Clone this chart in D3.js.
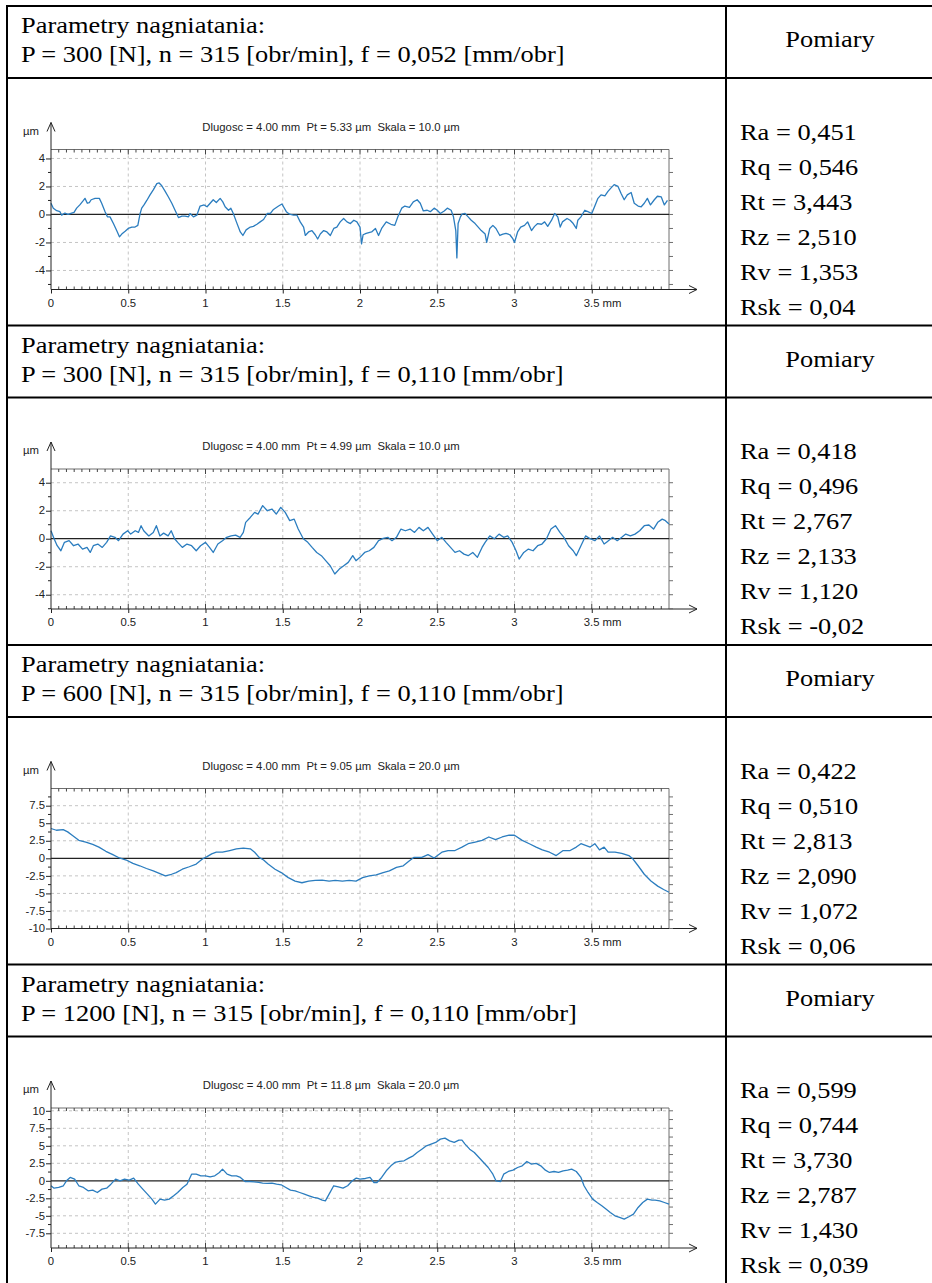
<!DOCTYPE html>
<html>
<head>
<meta charset="utf-8">
<script src="https://cdn.jsdelivr.net/npm/d3@7"></script>
<style>
  html, body { margin: 0; padding: 0; background: #fff; }
  svg { display: block; }
  .cell { font-family: "Liberation Serif", "Times New Roman", serif; font-size: 24px; fill: #000; }
  .plot text { font-family: "Liberation Sans", Arial, sans-serif; font-size: 10.3px; fill: #222; white-space: pre; }
</style>
</head>
<body>
<svg id="sheet"></svg>
<script>
// Surface roughness profiles, four burnishing settings

const paramHeader = "Parametry nagniatania:";
const paramLines = [
    "P = 300 [N], n = 315 [obr/min], f = 0,052 [mm/obr]",
    "P = 300 [N], n = 315 [obr/min], f = 0,110 [mm/obr]",
    "P = 600 [N], n = 315 [obr/min], f = 0,110 [mm/obr]",
    "P = 1200 [N], n = 315 [obr/min], f = 0,110 [mm/obr]"
];
const measureHeader = "Pomiary";
const measureNames = ["Ra", "Rq", "Rt", "Rz", "Rv", "Rsk"];
const measureValues = [
    ["0,451", "0,546", "3,443", "2,510", "1,353", "0,04"],
    ["0,418", "0,496", "2,767", "2,133", "1,120", "-0,02"],
    ["0,422", "0,510", "2,813", "2,090", "1,072", "0,06"],
    ["0,599", "0,744", "3,730", "2,787", "1,430", "0,039"]
];
const ptValues = ["5.33", "4.99", "9.05", "11.8"];
const scaleValues = ["10.0", "10.0", "20.0", "20.0"];

const xTicks = [0, 0.5, 1, 1.5, 2, 2.5, 3, 3.5];
const xTickLabels = ["0", "0.5", "1", "1.5", "2", "2.5", "3", "3.5 mm"];
const yRanges = [[-5.36, 4.64], [-5.02, 4.98], [-10, 9.95], [-9.6, 10.4]];
const yTicksSmall = [-4, -2, 0, 2, 4];
const yMinorSmall = [-5, -3, -1, 1, 3];
const yTicksLarge = [-10, -7.5, -5, -2.5, 0, 2.5, 5, 7.5, 10];

// profile points [mm, µm]
const profile1 = [[0,0.8],[0.015,0.45],[0.037,0.27],[0.058,0.2],[0.069,-0.05],[0.09,0.1],[0.11,0],[0.134,0.1],[0.149,0.15],[0.166,0.45],[0.188,0.7],[0.21,1.0],[0.22,1.15],[0.235,0.8],[0.248,0.85],[0.26,1.05],[0.285,1.15],[0.313,1.15],[0.328,0.8],[0.35,0.2],[0.365,-0.17],[0.382,-0.17],[0.404,-0.65],[0.425,-1.15],[0.443,-1.6],[0.458,-1.4],[0.48,-1.2],[0.5,-1.0],[0.523,-0.9],[0.544,-0.9],[0.562,-0.78],[0.577,0.07],[0.587,0.45],[0.603,0.7],[0.62,1.0],[0.641,1.4],[0.663,1.77],[0.685,2.2],[0.7,2.25],[0.717,2.05],[0.739,1.65],[0.76,1.25],[0.782,0.8],[0.803,0.3],[0.825,-0.22],[0.847,-0.12],[0.868,-0.12],[0.89,-0.17],[0.9,0.07],[0.922,-0.17],[0.944,-0.05],[0.965,0.6],[0.991,0.68],[1.01,0.55],[1.026,0.75],[1.05,1.05],[1.07,0.85],[1.095,1.15],[1.112,0.9],[1.127,0.55],[1.149,0.3],[1.164,0.45],[1.18,0.07],[1.2,-0.53],[1.225,-1.25],[1.242,-1.5],[1.263,-1.1],[1.29,-0.9],[1.31,-0.85],[1.333,-0.7],[1.354,-0.53],[1.376,-0.36],[1.4,0.07],[1.42,0.07],[1.44,0.36],[1.473,0.6],[1.495,0.75],[1.505,0.55],[1.523,0.2],[1.544,0.02],[1.57,-0.05],[1.592,-0.05],[1.613,-0.53],[1.635,-0.9],[1.646,-1.5],[1.667,-1.25],[1.689,-1.15],[1.71,-1.45],[1.726,-1.75],[1.743,-1.4],[1.765,-1.15],[1.786,-1.25],[1.808,-1.5],[1.83,-1.0],[1.85,-0.9],[1.872,-0.53],[1.894,-0.29],[1.916,-0.53],[1.938,-0.65],[1.96,-0.41],[1.98,-0.53],[2.0,-0.9],[2.01,-2.1],[2.02,-1.45],[2.04,-1.35],[2.075,-1.25],[2.1,-1.0],[2.12,-1.5],[2.14,-1.0],[2.17,-0.53],[2.2,-0.7],[2.225,-0.78],[2.245,-0.17],[2.27,0.45],[2.29,0.6],[2.32,0.5],[2.345,0.9],[2.37,1.05],[2.39,0.8],[2.41,0.25],[2.435,0.3],[2.455,0.2],[2.48,0.45],[2.5,0.3],[2.52,0.07],[2.545,0.25],[2.565,0.45],[2.59,0.3],[2.605,-0.17],[2.62,-1.15],[2.627,-3.1],[2.635,-0.65],[2.65,-0.17],[2.66,0.02],[2.68,0.07],[2.7,-0.17],[2.72,-0.41],[2.745,-0.65],[2.765,-0.9],[2.785,-1.15],[2.81,-1.4],[2.82,-2.0],[2.84,-1.0],[2.86,-0.78],[2.88,-1.0],[2.905,-1.5],[2.925,-1.4],[2.945,-1.35],[2.97,-1.45],[2.99,-1.75],[3.0,-2.0],[3.02,-1.25],[3.04,-0.9],[3.065,-0.78],[3.085,-0.53],[3.11,-1.15],[3.13,-0.85],[3.15,-0.65],[3.175,-0.7],[3.195,-0.53],[3.215,-0.85],[3.24,-0.41],[3.26,0.07],[3.28,-0.17],[3.296,-0.9],[3.31,-0.53],[3.34,-0.29],[3.36,-0.41],[3.38,-0.65],[3.4,-1.0],[3.41,-0.41],[3.43,-0.17],[3.455,0.3],[3.475,0.2],[3.5,0.07],[3.52,0.6],[3.54,1.15],[3.56,1.4],[3.585,1.33],[3.605,1.65],[3.625,1.9],[3.645,2.13],[3.67,2.0],[3.69,1.5],[3.71,1.05],[3.73,1.4],[3.755,1.57],[3.775,0.8],[3.8,0.6],[3.82,0.55],[3.84,0.8],[3.86,1.15],[3.88,0.68],[3.905,1.05],[3.925,1.3],[3.95,1.25],[3.97,0.68],[3.99,1.0]];

const profile2 = [[0,0.57],[0.02,0],[0.04,-0.5],[0.064,-0.86],[0.087,-0.26],[0.117,-0.14],[0.146,-0.5],[0.175,-0.38],[0.204,-0.74],[0.233,-0.62],[0.254,-0.98],[0.274,-0.5],[0.303,-0.38],[0.332,-0.62],[0.36,-0.26],[0.385,0.2],[0.414,0.1],[0.437,-0.14],[0.466,0.33],[0.496,0.57],[0.516,0.33],[0.545,0.57],[0.566,0.45],[0.583,0.93],[0.6,0.57],[0.633,0.2],[0.662,0.45],[0.682,0.93],[0.705,0.2],[0.729,0.4],[0.758,0.2],[0.778,0.57],[0.8,0],[0.82,-0.26],[0.85,-0.62],[0.88,-0.38],[0.91,-0.5],[0.94,-0.86],[0.968,-0.5],[1.0,-0.26],[1.026,-0.62],[1.05,-0.98],[1.08,-0.38],[1.11,-0.14],[1.137,0.1],[1.166,0.2],[1.195,0.26],[1.224,0.1],[1.245,0.45],[1.26,1.17],[1.29,1.52],[1.318,1.88],[1.34,1.76],[1.37,2.36],[1.4,2.0],[1.43,2.12],[1.458,1.76],[1.487,2.24],[1.516,1.88],[1.545,1.29],[1.574,1.4],[1.6,0.69],[1.633,0],[1.662,-0.26],[1.69,-0.62],[1.72,-0.98],[1.75,-1.21],[1.778,-1.57],[1.807,-1.93],[1.837,-2.52],[1.866,-2.17],[1.895,-1.93],[1.924,-1.69],[1.953,-1.21],[1.974,-1.57],[2.0,-1.33],[2.03,-0.98],[2.06,-0.86],[2.09,-0.62],[2.12,-0.14],[2.15,0.02],[2.18,0.1],[2.207,-0.14],[2.236,0.1],[2.265,0.69],[2.294,0.57],[2.324,0.69],[2.353,0.45],[2.382,0.81],[2.41,0.57],[2.44,0.81],[2.47,0.33],[2.5,-0.14],[2.53,0.1],[2.557,-0.26],[2.586,-0.62],[2.615,-0.98],[2.644,-0.86],[2.673,-1.1],[2.7,-1.21],[2.73,-0.98],[2.76,-1.33],[2.79,-0.62],[2.81,-0.26],[2.84,0.2],[2.87,0],[2.9,0.33],[2.93,0.1],[2.956,0.2],[2.985,-0.26],[3.01,-0.86],[3.03,-1.45],[3.06,-0.98],[3.09,-0.74],[3.12,-0.86],[3.15,-0.5],[3.178,-0.38],[3.207,0],[3.236,0.69],[3.265,0.93],[3.294,0.45],[3.32,0.1],[3.35,-0.5],[3.38,-0.86],[3.4,-1.21],[3.43,-0.5],[3.46,0.2],[3.49,0],[3.52,-0.14],[3.55,0.2],[3.58,-0.38],[3.6,-0.21],[3.635,0.1],[3.665,-0.14],[3.694,0.1],[3.72,0.33],[3.75,0.2],[3.78,0.33],[3.81,0.57],[3.84,0.93],[3.87,0.98],[3.9,0.69],[3.927,1.17],[3.956,1.4],[3.977,1.29],[4.0,1.05]];

const profile3 = [[0,4.25],[0.035,4.0],[0.079,4.1],[0.108,3.77],[0.137,3.29],[0.18,2.56],[0.225,2.32],[0.27,1.98],[0.31,1.6],[0.355,1.0],[0.4,0.53],[0.443,0.05],[0.487,-0.24],[0.53,-0.72],[0.574,-1.06],[0.618,-1.45],[0.662,-1.79],[0.705,-2.17],[0.74,-2.5],[0.78,-2.27],[0.81,-2.03],[0.85,-1.55],[0.895,-1.2],[0.94,-0.82],[0.98,-0.1],[1.01,0.24],[1.04,0.63],[1.07,0.87],[1.11,0.87],[1.157,1.11],[1.2,1.35],[1.245,1.45],[1.29,1.35],[1.318,0.87],[1.347,0.14],[1.376,-0.24],[1.405,-0.82],[1.45,-1.55],[1.49,-2.03],[1.536,-2.75],[1.58,-3.24],[1.624,-3.48],[1.668,-3.24],[1.71,-3.14],[1.755,-3.1],[1.8,-3.24],[1.84,-3.14],[1.886,-3.24],[1.93,-3.14],[1.974,-3.24],[2.017,-2.75],[2.06,-2.5],[2.105,-2.37],[2.15,-2.03],[2.19,-1.79],[2.236,-1.3],[2.28,-1.06],[2.32,-0.34],[2.35,0.14],[2.4,0.14],[2.44,0.53],[2.48,0.05],[2.53,0.87],[2.57,1.11],[2.615,1.11],[2.66,1.6],[2.7,2.08],[2.746,2.32],[2.79,2.56],[2.834,3.04],[2.877,2.66],[2.92,3.04],[2.965,3.29],[3.0,3.29],[3.05,2.56],[3.096,2.08],[3.14,1.6],[3.18,1.2],[3.227,0.87],[3.27,0.39],[3.315,1.11],[3.36,1.11],[3.4,1.6],[3.43,2.08],[3.46,1.84],[3.49,1.6],[3.52,2.08],[3.55,1.2],[3.58,1.6],[3.606,0.87],[3.65,0.87],[3.694,0.72],[3.74,0.39],[3.767,-0.1],[3.8,-1.06],[3.84,-2.27],[3.883,-3.24],[3.927,-3.96],[3.965,-4.44],[4.0,-4.83]];

const profile4 = [[0,-0.71],[0.02,-1.05],[0.05,-0.95],[0.08,-0.71],[0.1,0],[0.124,0.48],[0.153,0.24],[0.18,-0.71],[0.21,-0.95],[0.24,-1.43],[0.27,-1.33],[0.3,-1.67],[0.33,-1.19],[0.36,-1.05],[0.388,-0.48],[0.418,0.24],[0.447,0],[0.476,0.24],[0.506,0.1],[0.535,0.38],[0.565,-0.48],[0.594,-1.19],[0.624,-1.9],[0.653,-2.62],[0.676,-3.33],[0.706,-2.62],[0.735,-2.76],[0.765,-2.62],[0.794,-2.14],[0.82,-1.67],[0.853,-0.95],[0.88,-0.48],[0.91,0.95],[0.94,0.95],[0.97,0.71],[1.0,0.71],[1.03,0.57],[1.06,0.71],[1.09,1.19],[1.11,1.67],[1.14,0.95],[1.17,0.71],[1.2,0.71],[1.226,0.48],[1.256,-0.1],[1.285,-0.1],[1.315,-0.14],[1.344,-0.24],[1.37,-0.33],[1.4,-0.38],[1.43,-0.33],[1.46,-0.48],[1.49,-0.57],[1.52,-0.95],[1.55,-1.33],[1.58,-1.43],[1.61,-1.67],[1.64,-1.9],[1.67,-2.14],[1.7,-2.38],[1.726,-2.48],[1.756,-2.76],[1.776,-2.86],[1.8,-1.9],[1.83,-0.71],[1.86,-0.86],[1.89,-1.05],[1.92,-0.71],[1.95,0],[1.976,0.38],[2.0,0.24],[2.035,0.33],[2.065,0.48],[2.09,-0.24],[2.11,-0.24],[2.14,0.48],[2.17,1.43],[2.2,2.14],[2.226,2.62],[2.256,2.76],[2.285,2.86],[2.315,3.24],[2.344,3.57],[2.37,4.05],[2.4,4.52],[2.43,5.0],[2.46,5.24],[2.49,5.48],[2.52,5.95],[2.55,6.1],[2.58,5.71],[2.61,5.48],[2.64,5.81],[2.66,5.81],[2.68,5.24],[2.71,4.52],[2.74,4.05],[2.77,3.33],[2.8,2.62],[2.83,1.9],[2.86,0.95],[2.88,0],[2.91,-0.1],[2.93,0.95],[2.96,1.33],[2.99,1.52],[3.02,1.9],[3.05,2.14],[3.08,2.76],[3.11,2.38],[3.14,2.48],[3.17,2.14],[3.2,1.52],[3.226,1.19],[3.256,1.33],[3.285,1.19],[3.315,1.43],[3.344,1.52],[3.37,1.67],[3.4,1.33],[3.43,0.48],[3.45,-0.71],[3.476,-1.67],[3.506,-2.62],[3.535,-3.1],[3.565,-3.57],[3.594,-4.05],[3.62,-4.52],[3.65,-5.0],[3.68,-5.24],[3.71,-5.48],[3.74,-5.14],[3.77,-4.76],[3.8,-3.81],[3.83,-3.1],[3.86,-2.62],[3.89,-2.76],[3.91,-2.76],[3.94,-2.86],[3.97,-3.1],[4.0,-3.33]];

const profiles = [profile1, profile2, profile3, profile4];

// layout
const W = 932, H = 1283;
const tableLeft = 7, tableTop = 6, colDivider = 726;
const sectionH = 319.5, headerH = 72;
const plotLeft = 51, plotRight = 669, plotOffset = 71.5, plotH = 140;
const stretch = 1.1;   // the source picture is a little wider than tall

const svg = d3.select("#sheet").attr("width", W).attr("height", H);
svg.append("rect").attr("width", W).attr("height", H).attr("fill", "#fff");

// text placed at (x,y), widened horizontally around its anchor
function label(g, x, y, str, anchor, cls) {
    return g.append("text")
        .attr("class", cls || null)
        .attr("transform", `translate(${x},${y}) scale(${stretch},1)`)
        .attr("text-anchor", anchor || "start")
        .text(str);
}

const table = svg.append("g");

profiles.forEach((profile, i) => {
    const top = tableTop + i * sectionH;
    const headBottom = top + headerH;
    const plotTop = headBottom + plotOffset;

    label(table, 21, top + 27, paramHeader, "start", "cell");
    label(table, 21, top + 56, paramLines[i], "start", "cell");
    label(table, (colDivider + W) / 2 + 1, top + 41, measureHeader, "middle", "cell");

    measureNames.forEach((name, k) => {
        label(table, 740, plotTop - 10 + k * 35, `${name} = ${measureValues[i][k]}`, "start", "cell");
    });

    table.append("line").attr("x1", tableLeft - 1).attr("x2", W)
        .attr("y1", top).attr("y2", top);
    table.append("line").attr("x1", tableLeft - 1).attr("x2", W)
        .attr("y1", headBottom).attr("y2", headBottom);

    drawProfile(svg.append("g").attr("class", "plot"), profile, i, plotTop);
});

table.append("line").attr("x1", tableLeft).attr("x2", tableLeft)
    .attr("y1", tableTop - 1).attr("y2", H);
table.append("line").attr("x1", colDivider).attr("x2", colDivider)
    .attr("y1", tableTop - 1).attr("y2", H);
table.selectAll("line").attr("stroke", "#000").attr("stroke-width", 2);

function drawProfile(g, profile, i, plotTop) {
    const plotBottom = plotTop + plotH;
    const x = d3.scaleLinear().domain([0, 4]).range([plotLeft, plotRight]);
    const y = d3.scaleLinear().domain(yRanges[i]).range([plotBottom, plotTop]);
    const large = i >= 2;
    const inRange = v => v >= yRanges[i][0] - 0.01 && v <= yRanges[i][1] + 0.01;
    const yMajor = (large ? yTicksLarge : yTicksSmall).filter(inRange);
    const yMinor = large
        ? yMajor.map(v => v + 1.25).filter(inRange)
        : yMinorSmall.filter(inRange);
    const frameColor = "#6e6e6e";

    // dashed grid
    const grid = g.append("g").attr("stroke", "#c4c4c4").attr("stroke-dasharray", "3,3");
    grid.selectAll(".gx").data(xTicks.filter(v => v > 0)).join("line")
        .attr("class", "gx")
        .attr("x1", d => x(d)).attr("x2", d => x(d))
        .attr("y1", plotTop).attr("y2", plotBottom);
    grid.selectAll(".gy").data(yMajor.filter(v => v !== 0 && y(v) > plotTop + 2 && y(v) < plotBottom - 2)).join("line")
        .attr("class", "gy")
        .attr("x1", plotLeft).attr("x2", plotRight)
        .attr("y1", d => y(d)).attr("y2", d => y(d));

    // frame: top and right
    g.append("line").attr("x1", plotLeft).attr("x2", plotRight)
        .attr("y1", plotTop).attr("y2", plotTop).attr("stroke", frameColor);
    g.append("line").attr("x1", plotRight).attr("x2", plotRight)
        .attr("y1", plotTop).attr("y2", plotBottom).attr("stroke", frameColor);

    // ruler ticks every 0.05 mm along the top and bottom edges
    const rulerTicks = d3.range(1, 80).map(k => k * 0.05);
    const isHalf = d => Math.abs(d * 2 - Math.round(d * 2)) < 1e-6;
    g.append("g").selectAll("line").data(rulerTicks).join("line")
        .attr("x1", d => x(d)).attr("x2", d => x(d))
        .attr("y1", plotTop).attr("y2", d => plotTop + (isHalf(d) ? 5 : 3))
        .attr("stroke", "#444");
    g.append("g").selectAll("line").data(rulerTicks).join("line")
        .attr("x1", d => x(d)).attr("x2", d => x(d))
        .attr("y1", plotBottom).attr("y2", d => plotBottom - (isHalf(d) ? 5 : 3))
        .attr("stroke", "#444");

    // zero line
    g.append("line").attr("x1", plotLeft).attr("x2", plotRight)
        .attr("y1", y(0)).attr("y2", y(0))
        .attr("stroke", "#222").attr("stroke-width", 1.2);

    // profile
    const line = d3.line().x(d => x(d[0])).y(d => y(d[1]));
    g.append("path").datum(profile)
        .attr("d", line)
        .attr("fill", "none")
        .attr("stroke", "#2b7dbf")
        .attr("stroke-width", 1.3)
        .attr("stroke-linejoin", "round");

    // x axis with arrow
    const xg = g.append("g").attr("transform", `translate(0,${plotBottom})`)
        .call(d3.axisBottom(x).tickValues(xTicks).tickFormat("").tickSize(4).tickSizeOuter(0));
    xg.select(".domain").remove();
    xg.selectAll(".tick line").attr("stroke", "#222");
    g.append("line").attr("x1", plotLeft).attr("x2", plotRight + 28)
        .attr("y1", plotBottom).attr("y2", plotBottom).attr("stroke", "#222");
    g.append("path")
        .attr("d", `M${plotRight + 20},${plotBottom - 4}L${plotRight + 28},${plotBottom}L${plotRight + 20},${plotBottom + 4}`)
        .attr("fill", "none").attr("stroke", "#222");
    xTicks.forEach((v, k) => {
        const last = k === xTicks.length - 1;
        label(g, last ? x(v) - 8 : x(v), plotBottom + 17, xTickLabels[k], last ? "start" : "middle");
    });

    // y axis with arrow
    const yg = g.append("g").attr("transform", `translate(${plotLeft},0)`)
        .call(d3.axisLeft(y).tickValues(yMajor).tickFormat("").tickSize(5).tickSizeOuter(0));
    yg.select(".domain").remove();
    yg.selectAll(".tick line").attr("stroke", "#222");
    yMajor.forEach(v => label(g, plotLeft - 6, y(v) + 3.7, String(v), "end"));
    g.append("g").selectAll("line").data(yMinor).join("line")
        .attr("x1", plotLeft - 3).attr("x2", plotLeft)
        .attr("y1", d => y(d)).attr("y2", d => y(d)).attr("stroke", "#222");
    g.append("line").attr("x1", plotLeft).attr("x2", plotLeft)
        .attr("y1", plotBottom).attr("y2", plotTop - 27).attr("stroke", "#222");
    g.append("path")
        .attr("d", `M${plotLeft - 4},${plotTop - 18}L${plotLeft},${plotTop - 27}L${plotLeft + 4},${plotTop - 18}`)
        .attr("fill", "none").attr("stroke", "#222");

    // ticks on the right edge
    g.append("g").selectAll("line").data(yMajor.concat(yMinor)).join("line")
        .attr("x1", plotRight).attr("x2", plotRight + 4)
        .attr("y1", d => y(d)).attr("y2", d => y(d)).attr("stroke", frameColor);

    // unit and caption
    label(g, 23, plotTop - 15, "µm");
    label(g, 331, plotTop - 19,
        `Dlugosc = 4.00 mm  Pt = ${ptValues[i]} µm  Skala = ${scaleValues[i]} µm`, "middle");
}
</script>
</body>
</html>
